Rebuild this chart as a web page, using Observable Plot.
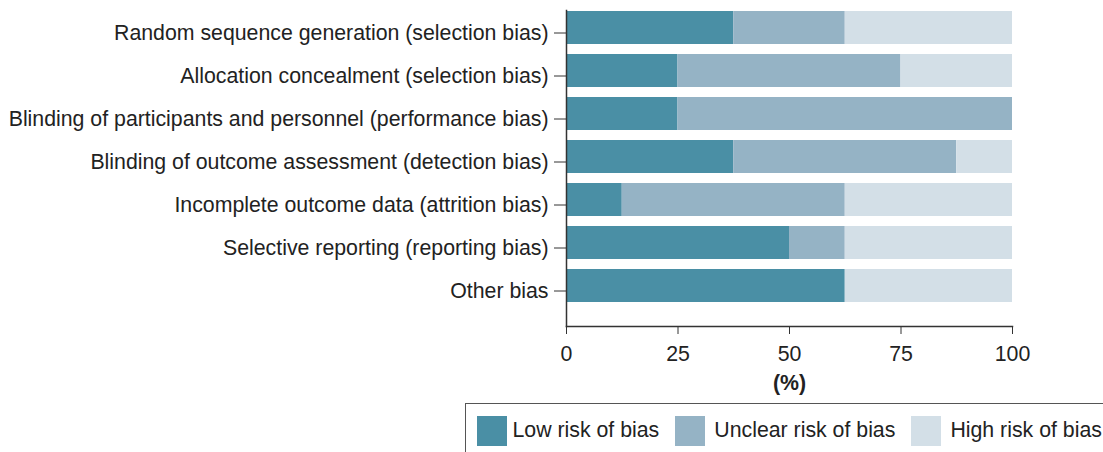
<!DOCTYPE html>
<html>
<head>
<meta charset="utf-8">
<script src="https://cdn.jsdelivr.net/npm/d3@7"></script>
<script src="https://cdn.jsdelivr.net/npm/@observablehq/plot@0.6"></script>
<style>
  body { margin: 0; background: #fff; font-family: "Liberation Sans", Arial, sans-serif; }
  #chart svg { display: block; }
  g[aria-label="x-axis label"] text { font-weight: bold; }
  .legend { margin-left: 465px; width: 660px; height: 60px; border: 1.5px solid #555; box-sizing: border-box;
            display: flex; align-items: flex-start; padding-top: 11.5px; padding-left: 10.5px; font-size: 21.3px; color: #222; }
  .item { display: flex; align-items: center; margin-right: 16px; }
  .sw { width: 30px; height: 30px; margin-right: 6px; }
  .item + .item .sw { margin-right: 9px; }
</style>
</head>
<body>
<div id="chart"></div>
<script>
const domains = [
  "Random sequence generation (selection bias)",
  "Allocation concealment (selection bias)",
  "Blinding of participants and personnel (performance bias)",
  "Blinding of outcome assessment (detection bias)",
  "Incomplete outcome data (attrition bias)",
  "Selective reporting (reporting bias)",
  "Other bias"
];
const risks = ["Low risk of bias", "Unclear risk of bias", "High risk of bias"];
const colors = ["#4a8fa5", "#95b3c5", "#d3dfe7"];
const lowRisk = [37.5, 25, 25, 37.5, 12.5, 50, 62.5];
const unclearRisk = [25, 50, 75, 50, 50, 12.5, 0];
const highRisk = [37.5, 25, 0, 12.5, 37.5, 37.5, 37.5];
const xTicks = [0, 25, 50, 75, 100];

const series = [lowRisk, unclearRisk, highRisk];
const data = [];
domains.forEach((d, i) => {
  risks.forEach((r, j) => data.push({domain: d, risk: r, value: series[j][i]}));
});

const chart = Plot.plot({
  width: 1103,
  height: 403,
  marginTop: 10,
  marginBottom: 77,
  marginLeft: 566,
  marginRight: 91,
  style: {fontSize: "21.3px", fontFamily: "'Liberation Sans', Arial, sans-serif", color: "#222", background: "#fff"},
  x: {domain: [0, 100]},
  y: {domain: domains, range: [6, 307], paddingInner: 0.23, paddingOuter: 0.115},
  color: {domain: risks, range: colors},
  marks: [
    Plot.barX(data, Plot.stackX({x: "value", y: "domain", fill: "risk", order: risks})),
    Plot.axisY({tickSize: 12, tickPadding: 6, dy: 5, label: null, stroke: "#333"}),
    Plot.axisX({ticks: xTicks, tickSize: 8, tickPadding: 11, label: "(%)", labelAnchor: "center", labelArrow: "none", labelOffset: 63, stroke: "#333"}),
    Plot.frame({anchor: "left", stroke: "#333", strokeWidth: 1.5}),
    Plot.frame({anchor: "bottom", stroke: "#333", strokeWidth: 1.5})
  ]
});
document.getElementById("chart").appendChild(chart);

const legend = document.createElement("div");
legend.className = "legend";
risks.forEach((r, j) => {
  const it = document.createElement("div");
  it.className = "item";
  const sw = document.createElement("div");
  sw.className = "sw";
  sw.style.background = colors[j];
  const tx = document.createElement("span");
  tx.textContent = r;
  it.appendChild(sw); it.appendChild(tx);
  legend.appendChild(it);
});
document.body.appendChild(legend);
</script>
</body>
</html>
